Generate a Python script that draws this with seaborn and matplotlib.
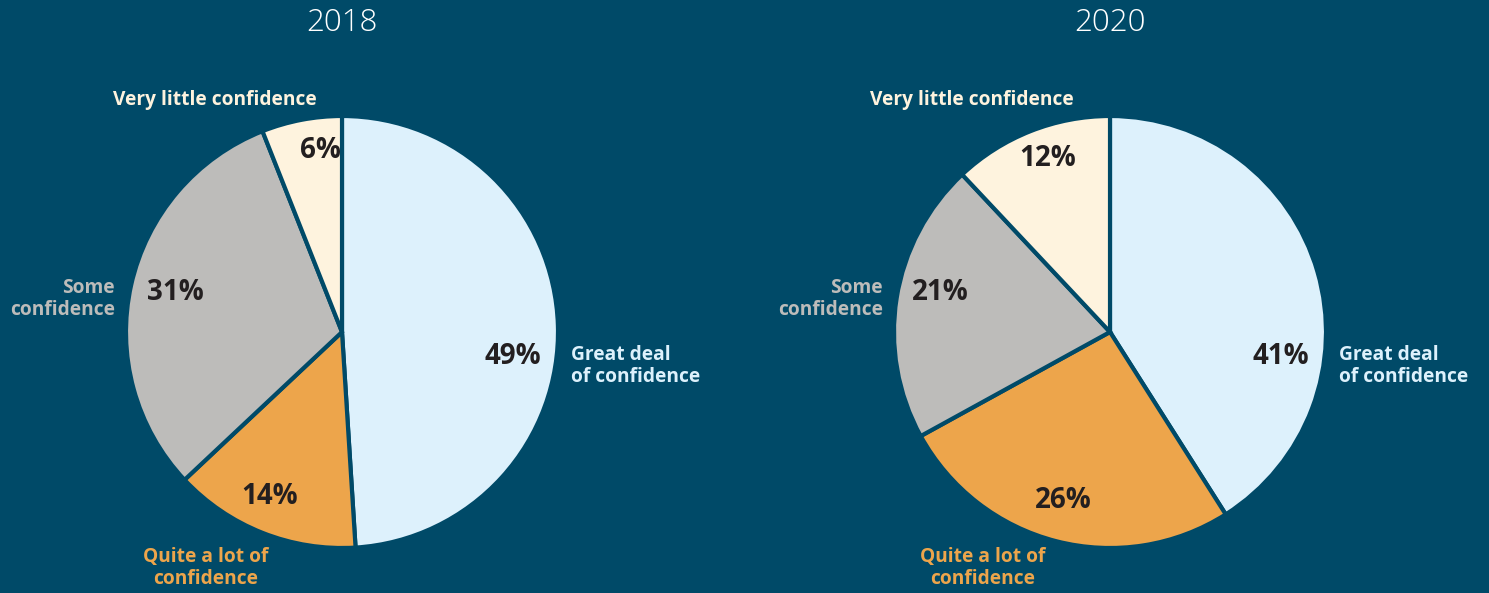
import matplotlib
matplotlib.use('Agg')
import matplotlib.pyplot as plt
import seaborn as sns

# data
years = ['2018', '2020']
categories = ['Great deal\nof confidence', 'Quite a lot of\nconfidence',
              'Some\nconfidence', 'Very little confidence']
shares_2018 = [49, 14, 31, 6]
shares_2020 = [41, 26, 21, 12]

bg = '#004A68'
slice_colors = ['#DDF1FC', '#EDA54B', '#BDBCBA', '#FEF3DE']
label_colors = ['#DDF1FC', '#EDA54B', '#BDBCBA', '#FEF3DE']

sns.set_theme(style='white')
plt.rcParams['font.family'] = ['Open Sans', 'DejaVu Sans']

W, H = 1489, 593
fig = plt.figure(figsize=(W / 100, H / 100), dpi=100, facecolor=bg)

R = 216
centers = [(342, 332), (1110, 332)]
# category label anchors: (x offset from pie centre, y from top, alignment)
label_specs = [
    [(229, 366, 'left'), (-136, 568, 'center'), (-227, 299, 'right'), (-127, 100, 'center')],
    [(229, 366, 'left'), (-127, 568, 'center'), (-227, 299, 'right'), (-138, 100, 'center')],
]
# percentage label positions in pixels
pct_pos = [
    [(513, 357), (270, 497), (175, 293), (320, 150)],
    [(1281, 357), (1063, 500), (940, 293), (1048, 158)],
]


def px(x, y):
    return x / W, 1 - y / H


for i, (year, shares) in enumerate(zip(years, [shares_2018, shares_2020])):
    cx, cy = centers[i]
    ax = fig.add_axes([(cx - R) / W, (H - cy - R) / H, 2 * R / W, 2 * R / H])
    ax.set_facecolor(bg)
    wedges, texts, autotexts = ax.pie(
        shares, colors=sns.color_palette(slice_colors), startangle=90,
        counterclock=False, autopct='%d%%', pctdistance=0.8,
        wedgeprops=dict(edgecolor=bg, linewidth=3),
        textprops=dict(fontsize=20, fontweight='bold', color='#231F20'))
    for t, (x, y) in zip(autotexts, pct_pos[i]):
        t.set_position(((x - cx) / R, (cy - y) / R))
    ax.set_xlim(-1.0, 1.0)
    ax.set_ylim(-1.0, 1.0)
    ax.set_aspect('equal')
    ax.axis('off')

    fig.text(*px(cx, 23), year, ha='center', va='center', fontsize=22.5,
             fontweight='light', color='white')

    for cat, col, (dx, y, ha) in zip(categories, label_colors, label_specs[i]):
        fig.text(*px(cx + dx, y), cat, ha=ha, va='center', fontsize=13.8,
                 fontweight='bold', color=col, linespacing=1.1,
                 multialignment=ha)

fig.savefig('out.png', dpi=100, facecolor=bg)
